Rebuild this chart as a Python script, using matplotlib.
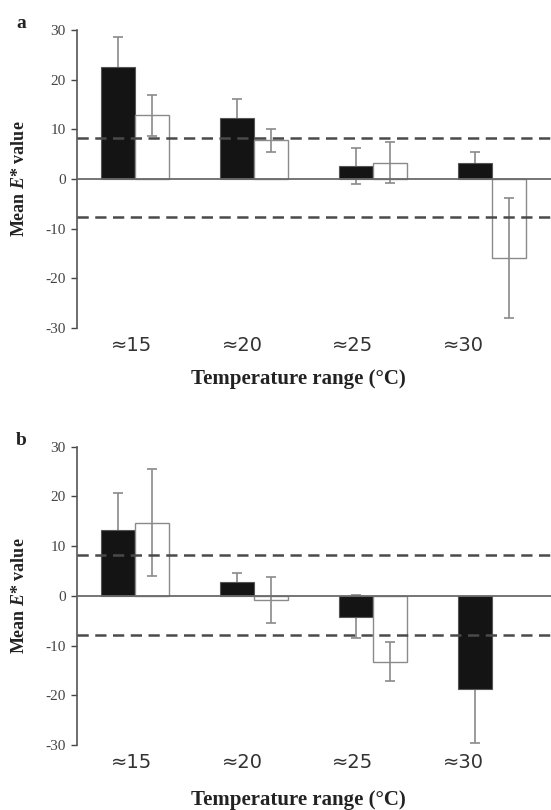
import numpy as np
import matplotlib
matplotlib.use("Agg")
import matplotlib.pyplot as plt

plt.rcParams['font.family'] = ['Liberation Serif', 'DejaVu Serif']
plt.rcParams['mathtext.fontset'] = 'custom'
plt.rcParams['mathtext.it'] = 'Liberation Serif:bold:italic'
plt.rcParams['mathtext.rm'] = 'Liberation Serif:bold'
plt.rcParams['axes.unicode_minus'] = False

groups = ["≈15", "≈20", "≈25", "≈30"]

# panel a
a_black = [22.6, 12.2, 2.6, 3.3]
a_black_err = [5.9, 3.9, 3.7, 2.1]
a_white = [12.8, 7.8, 3.3, -16.0]
a_white_err = [4.2, 2.3, 4.1, 12.1]
a_limits = [8.3, -7.7]

# panel b
b_black = [13.3, 2.8, -4.2, -18.8]
b_black_err = [7.4, 1.8, 4.3, 10.7]
b_white = [14.7, -0.8, -13.2, np.nan]
b_white_err = [10.8, 4.6, 3.9, np.nan]
b_limits = [8.2, -7.9]

W = 0.286
GREY = "#8a8a8a"
TXT = "#444444"


def panel(ax, black, black_err, white, white_err, limits, letter, xlab_y):
    x = np.arange(len(groups))
    # black bars sit over their error bars, white bars under theirs
    ax.errorbar(x - W / 2, black, yerr=black_err, fmt="none", ecolor=GREY,
                elinewidth=1.2, capsize=3.5, capthick=1.2, zorder=1)
    ax.bar(x - W / 2, black, W, color="#141414", edgecolor="#555555",
           linewidth=0.8, zorder=2)
    ax.bar(x + W / 2, white, W, color="white", edgecolor=GREY,
           linewidth=1.0, zorder=2)
    ax.errorbar(x + W / 2, white, yerr=white_err, fmt="none", ecolor=GREY,
                elinewidth=1.2, capsize=3.5, capthick=1.2, zorder=3)

    ax.axhline(0, color="#6a6a6a", lw=1.3, zorder=4)
    for v in limits:
        ax.axhline(v, color="#4a4a4a", lw=1.8, ls=(0, (4.5, 2.6)), zorder=5)

    ax.set_xlim(-0.487, 3.496)
    ax.set_ylim(-30, 30)
    ax.set_yticks([-30, -20, -10, 0, 10, 20, 30])
    ax.tick_params(axis="y", labelsize=11, colors=TXT, length=4,
                   width=1.0, pad=4)
    ax.set_xticks(x * 0.93 - 0.03)
    ax.set_xticklabels(groups, fontsize=14, family="DejaVu Sans",
                       color="#333333")
    ax.tick_params(axis="x", length=0, pad=6)
    for s in ["top", "right", "bottom"]:
        ax.spines[s].set_visible(False)
    ax.spines["left"].set_color("#555555")
    ax.spines["left"].set_linewidth(1.2)

    ax.set_xlabel("Temperature range (°C)", fontsize=15, fontweight="bold",
                  color="#222222")
    ax.xaxis.set_label_coords(0.468, xlab_y)
    ax.set_ylabel("Mean $E$* value", fontsize=13, fontweight="bold",
                  color="#222222")
    ax.yaxis.set_label_coords(-0.103, 0.5)
    ax.text(-0.118, 1.022, letter, transform=ax.transAxes, fontsize=14,
            fontweight="bold", color="#222222", ha="center", va="center")


fig = plt.figure(figsize=(5.51, 8.10), dpi=100)
ax_a = fig.add_axes([0.1397, 0.5954, 0.8603, 0.3675])
ax_b = fig.add_axes([0.1397, 0.0802, 0.8603, 0.3683])

panel(ax_a, a_black, a_black_err, a_white, a_white_err, a_limits, "a", -0.138)
panel(ax_b, b_black, b_black_err, b_white, b_white_err, b_limits, "b", -0.150)

fig.savefig("out.png", dpi=100)
